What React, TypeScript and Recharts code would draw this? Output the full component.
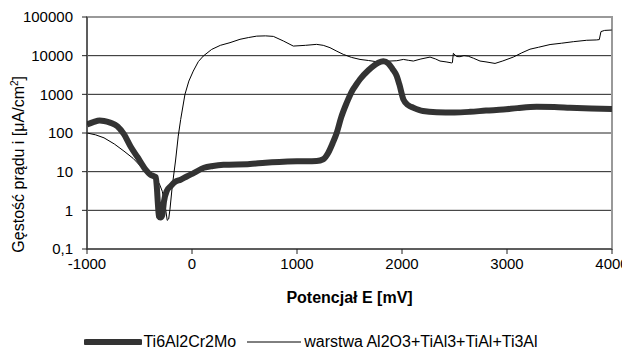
import React from 'react';
import { LineChart, Line, XAxis, YAxis, CartesianGrid, Legend, ReferenceArea } from 'recharts';

// potential E [mV] and current density i [uA/cm2]
const alloyE = [
  -1000, -940, -880, -838, -780, -711, -650, -585, -520, -442, -400, -362, -345, -335, -325, -315,
  -300, -283, -267, -240, -204, -160, -108, -50, 19, 114, 200, 300, 552, 700, 1000, 1187, 1250,
  1298, 1340, 1378, 1420, 1473, 1530, 1565, 1600, 1680, 1774, 1822, 1870, 1910, 1950, 1975, 2013, 2060,
  2108, 2200, 2330, 2500, 2648, 2800, 2965, 3100, 3282, 3450, 3600, 3800, 4000,
];
const alloyI = [
  165, 190, 210, 205, 185, 150, 95, 45, 24, 11.3, 8.5, 7.6, 7.2, 4, 1.5, 0.7,
  0.65, 0.75, 1.7, 3.2, 4.2, 5.5, 6.2, 7.5, 9.3, 12.6, 14, 15, 15.8, 17, 18.5, 19, 21,
  31, 55, 100, 250, 600, 1300, 1800, 2450, 4200, 6600, 7200, 6300, 4500, 2950, 1800, 740, 520,
  450, 370, 345, 340, 353, 380, 405, 440, 475, 470, 450, 430, 420,
];

const layerE = [
  -1000, -920, -838, -740, -648, -560, -489, -420, -346, -310, -283, -265, -251, -236, -222, -210,
  -188, -156, -131, -108, -67, -30, 12, 60, 108, 187, 270, 362, 457, 540, 616, 700, 775, 870, 965,
  1080, 1187, 1250, 1314, 1380, 1441, 1520, 1600, 1680, 1759, 1886, 1950, 2013, 2060, 2108, 2180,
  2267, 2320, 2362, 2420, 2473, 2480, 2489, 2520, 2552, 2590, 2631, 2680, 2743, 2800, 2886, 2960,
  3060, 3140, 3219, 3300, 3410, 3520, 3632, 3759, 3850, 3879, 3895, 3930, 3997,
];
const layerI = [
  100, 90, 75, 52, 34, 22, 13.8, 9.5, 6.9, 4.8, 3.1, 1.8, 1.05, 0.55, 0.6, 1.05,
  4.2, 20, 83, 223, 1000, 2200, 3990, 7000, 9800, 14500, 18500, 21700, 26500, 29500, 32000, 32500, 31500, 24000, 17700,
  18500, 19600, 18500, 16100, 13000, 10800, 9000, 8000, 7500, 6960, 7260, 7400, 8000, 7600, 7260, 8200,
  9200, 8200, 7260, 6900, 6500, 6600, 11500, 9500, 9400, 10000, 9700, 8600, 7260, 6900, 6300, 7300,
  9200, 11800, 14700, 16500, 19400, 21000, 23000, 25000, 25500, 26000, 42000, 45000, 46000,
];

const xTicks = [-1000, 0, 1000, 2000, 3000, 4000];
const yTicks = [0.1, 1, 10, 100, 1000, 10000, 100000];

const seriesNames = ['Ti6Al2Cr2Mo', 'warstwa Al2O3+TiAl3+TiAl+Ti3Al'];

const alloyData = alloyE.map((e, i) => ({ e, i: alloyI[i] }));
const layerData = layerE.map((e, i) => ({ e, i: layerI[i] }));

const YTitle = (props: any) => {
  const vb = props.viewBox;
  const x = vb.x + 24;
  const y = vb.y + vb.height * 0.635;
  return (
    <text x={x} y={y} transform={`rotate(-90, ${x}, ${y})`} textAnchor="middle" fontSize={16} fill="#000">
      Gęstość prądu i [μA/cm<tspan dy={-6} fontSize={10}>2</tspan><tspan dy={6}>]</tspan>
    </text>
  );
};

const XTitle = (props: any) => {
  const vb = props.viewBox;
  return (
    <text x={vb.x + vb.width / 2} y={vb.y + 54} textAnchor="middle" fontSize={16} fontWeight="bold" fill="#000">
      Potencjał E [mV]
    </text>
  );
};

const ChartLegend = () => (
  <div style={{ display: 'flex', justifyContent: 'center', alignItems: 'center', fontSize: 16, color: '#000' }}>
    <svg width={58} height={10}>
      <line x1={2} y1={5} x2={56} y2={5} stroke="#333" strokeWidth={6} strokeLinecap="round" />
    </svg>
    <span style={{ marginLeft: 1, marginRight: 11 }}>{seriesNames[0]}</span>
    <svg width={54} height={10}>
      <line x1={0} y1={5} x2={54} y2={5} stroke="#000" strokeWidth={1} />
    </svg>
    <span style={{ marginLeft: 3 }}>{seriesNames[1]}</span>
  </div>
);

const App = () => {
  return (
    <div style={{ position: 'absolute', left: 0, top: 0, fontFamily: '"Liberation Sans", Arial, sans-serif' }}>
      <LineChart width={622} height={354} margin={{ top: 17, right: 10, bottom: 25, left: 0 }}>
        <CartesianGrid vertical={false} stroke="#222" strokeWidth={1} />
        <ReferenceArea x1={-1000} x2={4000} y1={0.1} y2={100000} fill="none" stroke="#999" strokeWidth={2} />
        <XAxis
          type="number"
          dataKey="e"
          domain={[-1000, 4000]}
          ticks={xTicks}
          interval={0}
          allowDataOverflow
          height={60}
          tickSize={5}
          tickMargin={4}
          stroke="#222"
          tick={{ fill: '#000', fontSize: 15 }}
          label={<XTitle />}
        />
        <YAxis
          type="number"
          scale="log"
          domain={[0.1, 100000]}
          ticks={yTicks}
          interval={0}
          allowDataOverflow
          width={87}
          tickSize={5}
          tickMargin={9}
          stroke="#222"
          tick={{ fill: '#000', fontSize: 15 }}
          tickFormatter={(v: number) => String(v).replace('.', ',')}
          label={<YTitle />}
        />
        <Legend content={<ChartLegend />} wrapperStyle={{ left: 0, top: 333, width: 622, height: 20 }} />
        <Line
          data={layerData}
          dataKey="i"
          name={seriesNames[1]}
          type="linear"
          stroke="#000"
          strokeWidth={1}
          dot={false}
          isAnimationActive={false}
        />
        <Line
          data={alloyData}
          dataKey="i"
          name={seriesNames[0]}
          type="monotone"
          stroke="#333"
          strokeWidth={6}
          dot={false}
          isAnimationActive={false}
        />
      </LineChart>
    </div>
  );
};

export default App;
